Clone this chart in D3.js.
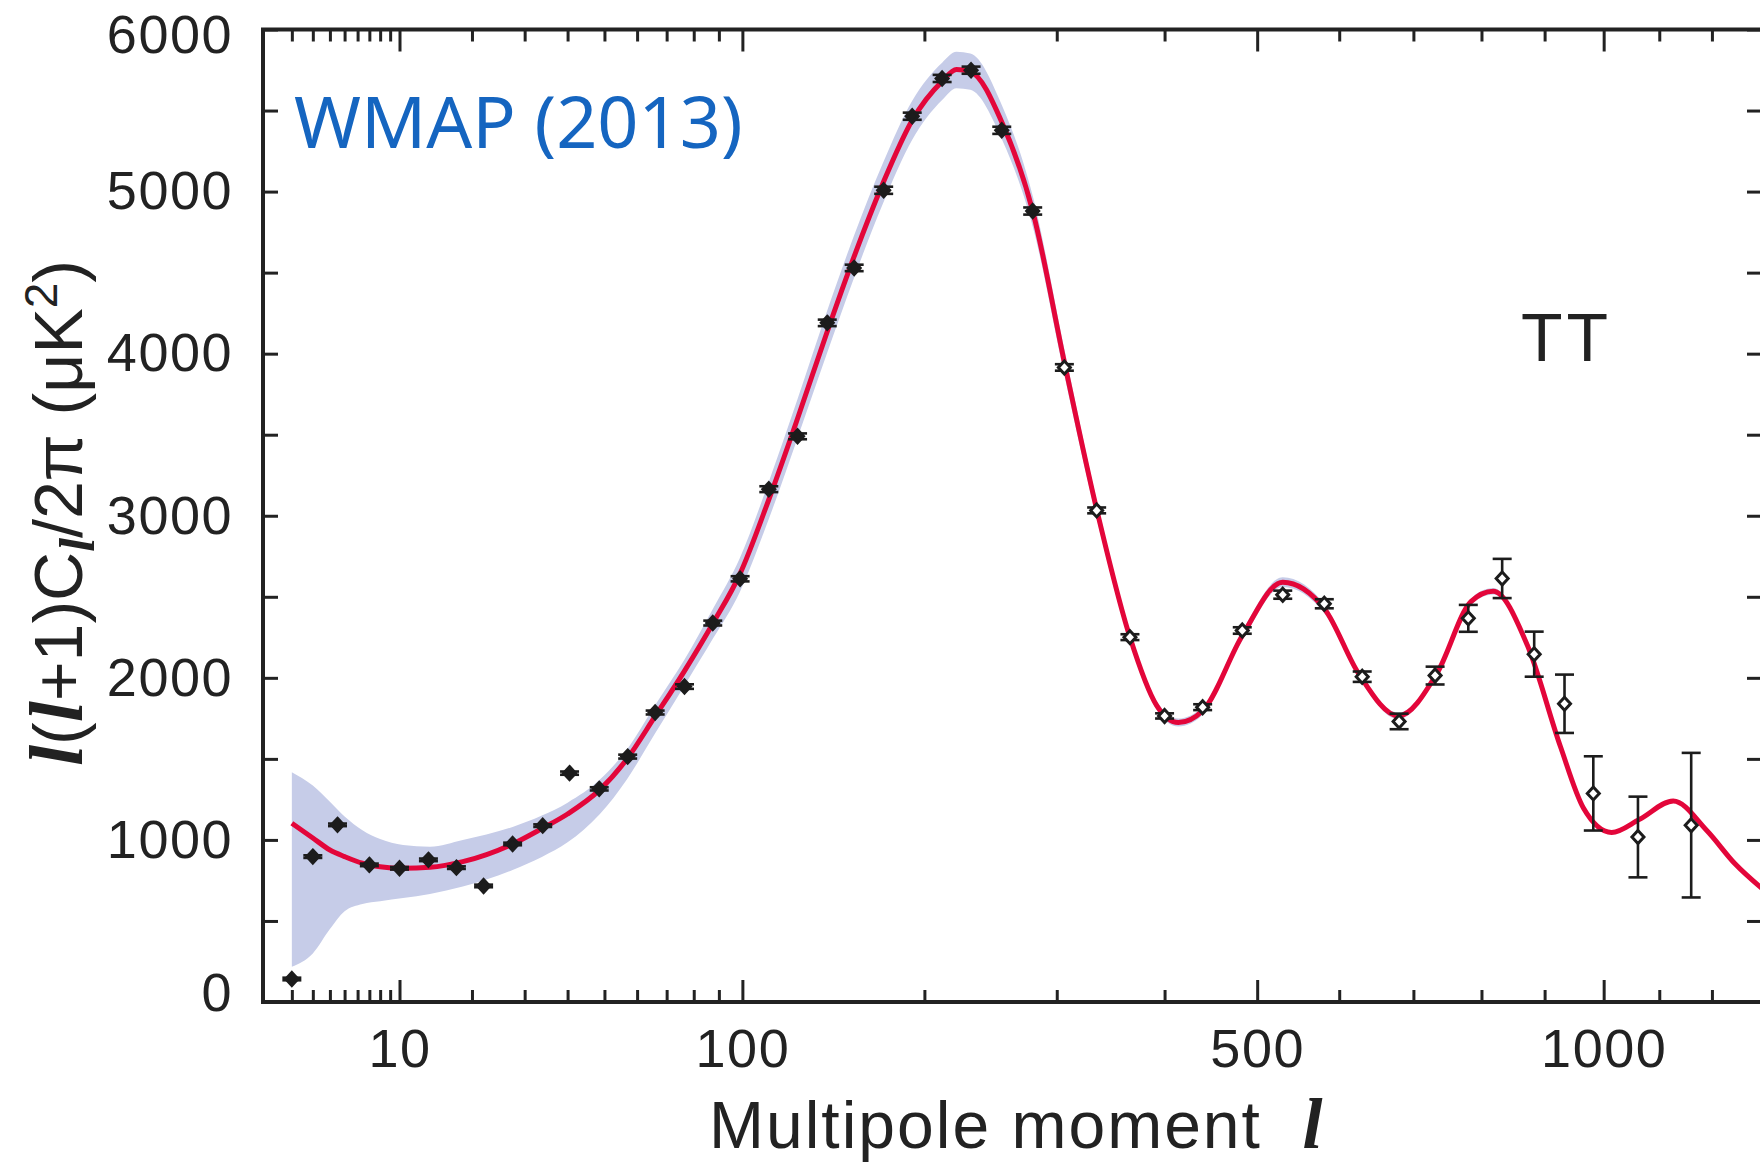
<!DOCTYPE html>
<html>
<head>
<meta charset="utf-8">
<script src="https://cdn.jsdelivr.net/npm/d3@7"></script>
<style>
  body { margin: 0; background: #fff; }
  .ax text { font-family: "Liberation Sans", Arial, sans-serif; font-size: 54px; fill: #222; letter-spacing: 1.5px; }
  .ax line { stroke: #222; stroke-width: 3; }
  .ax .domain { display: none; }
</style>
</head>
<body>
<script>
// binned WMAP points: multipole, D_l, error
var ell = [2, 3, 4.5, 7, 10, 13.5, 17.5, 22, 27.5, 34, 40.5, 48.5, 57, 66, 76.5, 87.5, 99, 112, 126, 141.5,
  156.5, 174, 192, 212, 232.5, 255.5, 280, 306.5, 335, 366, 400, 439.5, 483, 530, 581, 630, 680, 731,
  780, 832, 883, 933, 982, 1061, 1160];
var power = [142, 897, 1093, 846, 825, 877, 829, 716, 975, 1088, 1412, 1315, 1514, 1786, 1946, 2338, 2611, 3164, 3490, 4190,
  4529, 5008, 5465, 5698, 5749, 5378, 4880, 3915, 3033, 2251, 1765, 1819, 2292, 2513, 2457, 2007, 1731, 2014,
  2367, 2613, 2146, 1840, 1287, 1018, 1091];
var err = [8, 8, 8, 8, 8, 8, 8, 8, 8, 8, 10, 10, 12, 12, 14, 15, 16, 18, 18, 20,
  20, 22, 22, 22, 22, 22, 22, 20, 18, 18, 16, 18, 20, 25, 28, 32, 48, 55,
  83, 121, 139, 180, 229, 249, 446];

// best-fit model and its band
var modelL = [2, 3, 4, 5, 6.4, 8, 10.4, 13.7, 18.5, 27.5, 33.8, 40, 48.7, 56.8, 65.9, 76.4, 87.7, 98.9, 112, 126,
  141, 156.5, 173.5, 192, 212, 222, 232, 256, 280, 307, 335, 366, 392, 414, 440, 483, 530, 582, 625, 679,
  734, 784, 818, 872, 926, 965, 1014, 1064, 1126, 1190, 1246, 1300];
var modelV = [1103, 1012, 938, 897, 856, 835, 825, 831, 866, 975, 1070, 1160, 1310, 1500, 1760, 2040, 2340, 2640, 3100, 3600,
  4120, 4600, 5050, 5440, 5680, 5753, 5740, 5420, 4880, 3930, 3040, 2250, 1830, 1724, 1800, 2260, 2590, 2420, 2028, 1765,
  2030, 2470, 2534, 2201, 1578, 1197, 1046, 1127, 1240, 1058, 851, 700];
var bandLo = [218, 300, 450, 560, 605, 622, 642, 667, 712, 815, 895, 985, 1160, 1375, 1655, 1950, 2245, 2530, 2980, 3480,
  3990, 4470, 4925, 5320, 5565, 5638, 5628, 5315, 4785, 3850, 2985, 2215, 1803, 1699, 1775, 2230, 2560, 2392, 2005, 1745,
  2010, 2450, 2514, 2183, 1562, 1183, 1034, 1115, 1228, 1047, 841, 691];
var bandHi = [1418, 1335, 1235, 1145, 1060, 1005, 968, 958, 1000, 1080, 1150, 1230, 1372, 1560, 1830, 2110, 2430, 2740, 3210, 3720,
  4250, 4730, 5175, 5560, 5795, 5862, 5852, 5525, 4975, 4010, 3095, 2285, 1857, 1749, 1825, 2290, 2620, 2448, 2051, 1785,
  2050, 2490, 2554, 2219, 1594, 1211, 1058, 1139, 1252, 1069, 861, 709];

var xMajor = [10, 100, 500, 1000];
var xMinor = [2, 3, 4, 5, 6, 7, 8, 9, 20, 30, 40, 50, 60, 70, 80, 90, 200, 300, 400, 600, 700, 800, 900, 1100, 1200];
var yTicks = d3.range(0, 6001, 500);

var width = 1760, height = 1164;
var frameL = 263, frameR = 1762, frameT = 29.5, frameB = 1002;

var svg = d3.select("body").append("svg")
  .attr("width", width)
  .attr("height", height);

// axis is roughly l^0.4
var x = d3.scalePow().exponent(0.4).domain([1, 1300]).range([frameL, frameR]);
var y = d3.scaleLinear().domain([0, 6000]).range([frameB, frameT]);

var model = modelL.map(function (l, i) {
  return { l: l, v: modelV[i], lo: bandLo[i], hi: bandHi[i] };
});
var points = ell.map(function (l, i) {
  return { l: l, v: power[i], e: err[i] };
});

var plot = svg.append("g");

plot.append("path")
  .datum(model)
  .attr("fill", "#c6cce8")
  .attr("d", d3.area()
    .x(function (d) { return x(d.l); })
    .y0(function (d) { return y(d.lo); })
    .y1(function (d) { return y(d.hi); })
    .curve(d3.curveMonotoneX));

plot.append("path")
  .datum(model)
  .attr("fill", "none")
  .attr("stroke", "#e3063a")
  .attr("stroke-width", 5)
  .attr("d", d3.line()
    .x(function (d) { return x(d.l); })
    .y(function (d) { return y(d.v); })
    .curve(d3.curveMonotoneX));

var pt = plot.selectAll(".pt")
  .data(points)
  .enter().append("g")
  .attr("class", "pt")
  .attr("transform", function (d) { return "translate(" + x(d.l) + ",0)"; })
  .attr("stroke", "#1c1c1c")
  .attr("stroke-width", 2.6);

pt.append("line")
  .attr("y1", function (d) { return y(d.v - d.e); })
  .attr("y2", function (d) { return y(d.v + d.e); });
pt.append("line")
  .attr("x1", -9.5).attr("x2", 9.5)
  .attr("y1", function (d) { return y(d.v - d.e); })
  .attr("y2", function (d) { return y(d.v - d.e); });
pt.append("line")
  .attr("x1", -9.5).attr("x2", 9.5)
  .attr("y1", function (d) { return y(d.v + d.e); })
  .attr("y2", function (d) { return y(d.v + d.e); });
pt.append("path")
  .attr("transform", function (d) { return "translate(0," + y(d.v) + ")"; })
  .attr("d", "M0,-6.5L6,0L0,6.5L-6,0Z")
  .attr("stroke-width", 3)
  .attr("fill", function (d) { return d.l < 300 ? "#1c1c1c" : "#fff"; });

// frame
svg.append("rect")
  .attr("x", frameL).attr("y", frameT)
  .attr("width", frameR - frameL).attr("height", frameB - frameT)
  .attr("fill", "none")
  .attr("stroke", "#222")
  .attr("stroke-width", 4);

svg.append("g").attr("class", "ax")
  .attr("transform", "translate(0," + frameB + ")")
  .call(d3.axisBottom(x).tickValues(xMajor).tickSize(-22).tickPadding(27).tickFormat(d3.format("d")));
svg.append("g").attr("class", "ax")
  .attr("transform", "translate(0," + frameB + ")")
  .call(d3.axisBottom(x).tickValues(xMinor).tickSize(-12).tickFormat(""));
svg.append("g").attr("class", "ax")
  .attr("transform", "translate(0," + frameT + ")")
  .call(d3.axisTop(x).tickValues(xMajor).tickSize(-22).tickFormat(""));
svg.append("g").attr("class", "ax")
  .attr("transform", "translate(0," + frameT + ")")
  .call(d3.axisTop(x).tickValues(xMinor).tickSize(-12).tickFormat(""));

var yAxis = svg.append("g").attr("class", "ax")
  .attr("transform", "translate(" + frameL + ",0)")
  .call(d3.axisLeft(y).tickValues(yTicks).tickSize(-15).tickPadding(30)
    .tickFormat(function (d) { return d % 1000 === 0 ? d : ""; }));
yAxis.selectAll("text")
  .attr("y", function (d) { return d === 0 ? -9 : d === 6000 ? 6 : 0; });
svg.append("g").attr("class", "ax")
  .attr("transform", "translate(" + frameR + ",0)")
  .call(d3.axisRight(y).tickValues(yTicks).tickSize(-15).tickFormat(""));

// labels
var xl = svg.append("text")
  .attr("x", 709).attr("y", 1148)
  .attr("font-family", "Liberation Sans, Arial, sans-serif")
  .attr("font-size", 66)
  .attr("letter-spacing", 2)
  .attr("fill", "#222");
xl.append("tspan").text("Multipole moment\u00a0\u00a0");
xl.append("tspan")
  .attr("font-family", "Liberation Serif, serif")
  .attr("font-weight", "bold").attr("font-style", "italic")
  .attr("font-size", 72)
  .text("l");

var yl = svg.append("text")
  .attr("transform", "translate(82,513) rotate(-90)")
  .attr("text-anchor", "middle")
  .attr("font-family", "Liberation Sans, Arial, sans-serif")
  .attr("font-size", 68)
  .attr("fill", "#222");
function ellSpan(sel, size) {
  return sel.append("tspan")
    .attr("font-family", "Liberation Serif, serif")
    .attr("font-weight", "bold").attr("font-style", "italic")
    .attr("font-size", size)
    .text("l");
}
ellSpan(yl, 76);
yl.append("tspan").text("(");
ellSpan(yl, 76);
yl.append("tspan").text("+1)C");
ellSpan(yl, 50).attr("dy", 12);
yl.append("tspan").attr("dy", -12).text("/2\u03c0 (\u03bcK");
yl.append("tspan").attr("font-size", 46).attr("dy", -25).text("2");
yl.append("tspan").attr("dy", 25).text(")");

svg.append("text")
  .attr("x", 294).attr("y", 148)
  .attr("font-family", "Noto Sans, Open Sans, sans-serif")
  .attr("font-size", 72)
  .attr("fill", "#1565c0")
  .text("WMAP (2013)");

svg.append("text")
  .attr("x", 1521).attr("y", 361)
  .attr("font-family", "Liberation Sans, Arial, sans-serif")
  .attr("font-size", 68)
  .attr("letter-spacing", 4)
  .attr("fill", "#222")
  .text("TT");
</script>
</body>
</html>
